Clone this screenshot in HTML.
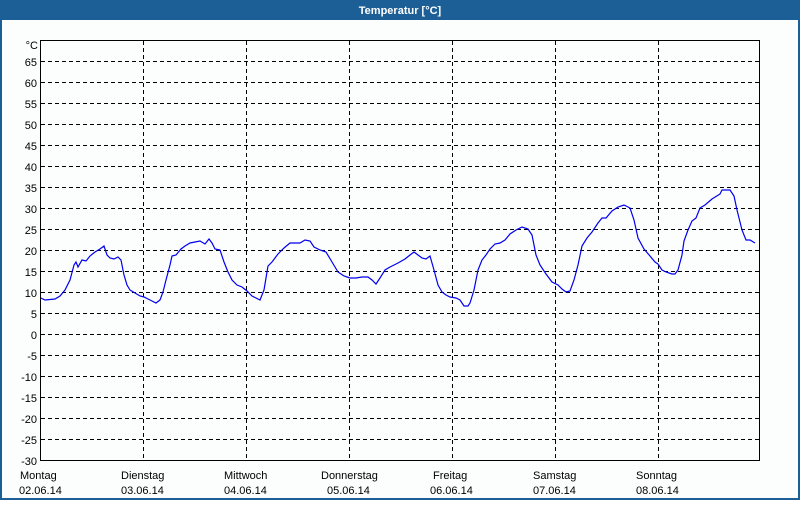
<!DOCTYPE html>
<html><head><meta charset="utf-8"><style>
html,body{margin:0;padding:0;background:#fff;}
body{width:800px;height:500px;overflow:hidden;font-family:"Liberation Sans",sans-serif;}
</style></head><body>
<svg width="800" height="500" xmlns="http://www.w3.org/2000/svg" font-family="Liberation Sans, sans-serif" font-size="11">
<rect x="0" y="0" width="800" height="500" fill="#fcfdfd"/>
<rect x="0" y="0" width="800" height="20" fill="#1c5f96"/>
<rect x="0" y="0" width="2" height="500" fill="#1c5f96"/>
<rect x="798" y="0" width="2" height="500" fill="#1c5f96"/>
<rect x="0" y="498" width="800" height="2" fill="#1c5f96"/>
<text x="400" y="14" fill="#fff" font-weight="bold" text-anchor="middle">Temperatur [°C]</text>
<g stroke="#000" stroke-dasharray="4,3" stroke-width="1">
<line x1="41" x2="760" y1="61.5" y2="61.5"/><line x1="41" x2="760" y1="82.5" y2="82.5"/><line x1="41" x2="760" y1="103.5" y2="103.5"/><line x1="41" x2="760" y1="124.5" y2="124.5"/><line x1="41" x2="760" y1="145.5" y2="145.5"/><line x1="41" x2="760" y1="166.5" y2="166.5"/><line x1="41" x2="760" y1="187.5" y2="187.5"/><line x1="41" x2="760" y1="208.5" y2="208.5"/><line x1="41" x2="760" y1="229.5" y2="229.5"/><line x1="41" x2="760" y1="250.5" y2="250.5"/><line x1="41" x2="760" y1="271.5" y2="271.5"/><line x1="41" x2="760" y1="292.5" y2="292.5"/><line x1="41" x2="760" y1="313.5" y2="313.5"/><line x1="41" x2="760" y1="334.5" y2="334.5"/><line x1="41" x2="760" y1="355.5" y2="355.5"/><line x1="41" x2="760" y1="376.5" y2="376.5"/><line x1="41" x2="760" y1="397.5" y2="397.5"/><line x1="41" x2="760" y1="418.5" y2="418.5"/><line x1="41" x2="760" y1="439.5" y2="439.5"/>
<line x1="143.5" x2="143.5" y1="41" y2="460"/><line x1="246.5" x2="246.5" y1="41" y2="460"/><line x1="349.5" x2="349.5" y1="41" y2="460"/><line x1="452.5" x2="452.5" y1="41" y2="460"/><line x1="555.5" x2="555.5" y1="41" y2="460"/><line x1="658.5" x2="658.5" y1="41" y2="460"/>
</g>
<rect x="40.5" y="40.5" width="719" height="420" fill="none" stroke="#000"/>
<g text-anchor="end" fill="#000">
<text x="38" y="49">°C</text>
<text x="37" y="66">65</text><text x="37" y="87">60</text><text x="37" y="108">55</text><text x="37" y="129">50</text><text x="37" y="150">45</text><text x="37" y="171">40</text><text x="37" y="192">35</text><text x="37" y="213">30</text><text x="37" y="234">25</text><text x="37" y="255">20</text><text x="37" y="276">15</text><text x="37" y="297">10</text><text x="37" y="318">5</text><text x="37" y="339">0</text><text x="37" y="360">-5</text><text x="37" y="381">-10</text><text x="37" y="402">-15</text><text x="37" y="423">-20</text><text x="37" y="444">-25</text><text x="37" y="465">-30</text>
</g>
<g fill="#000">
<text x="20" y="479">Montag</text><text x="19" y="494">02.06.14</text>
<text x="121" y="479">Dienstag</text><text x="121" y="494">03.06.14</text>
<text x="224" y="479">Mittwoch</text><text x="224" y="494">04.06.14</text>
<text x="321" y="479">Donnerstag</text><text x="327" y="494">05.06.14</text>
<text x="433" y="479">Freitag</text><text x="430" y="494">06.06.14</text>
<text x="533" y="479">Samstag</text><text x="533" y="494">07.06.14</text>
<text x="636" y="479">Sonntag</text><text x="636" y="494">08.06.14</text>
</g>
<polyline fill="none" stroke="#0000ee" stroke-width="1.2" points="41,298 45,300 55,299 60,296 65,290 70,280 74,265 76,262 78,267 82,260 86,261 90,256 95,252 100,249 104,246 107,255 110,258 114,259 118,257 121,260 124,275 127,285 130,290 135,293 140,296 144,297 148,299 152,301 156,303 160,300 163,292 166,280 170,265 172,256 176,255 181,249 185,246 190,243 195,242 200,241 205,244 209,239 212,243 215,249 220,250 224,262 228,272 232,280 237,285 242,287 247,291 252,296 256,298 260,300 264,290 268,266 272,262 278,254 284,248 290,243 296,243 300,243 305,240 310,241 314,247 320,250 326,252 332,262 338,272 344,276 350,278 356,278 362,277 368,277 372,280 376,284 380,278 385,270 390,267 398,263 405,259 410,255 414,252 418,255 422,258 426,259 430,256 434,270 438,285 442,292 446,295 450,297 456,298 460,300 464,306 468,306 470,303 474,290 478,270 482,260 486,255 490,249 495,244 500,243 505,240 510,234 516,230 522,227 528,229 532,235 536,255 540,265 546,274 552,282 558,285 562,289 566,292 570,291 574,280 578,265 582,246 587,238 592,232 598,223 602,218 606,218 612,211 618,207 624,205 630,208 634,220 638,238 644,249 650,256 655,262 658,264 662,270 666,272 672,274 675,274 678,270 682,255 684,241 688,230 692,221 696,218 700,208 705,205 712,199 720,194 722,190 730,190 734,196 737,210 742,230 746,240 750,240 755,243"/>
</svg>
</body></html>
